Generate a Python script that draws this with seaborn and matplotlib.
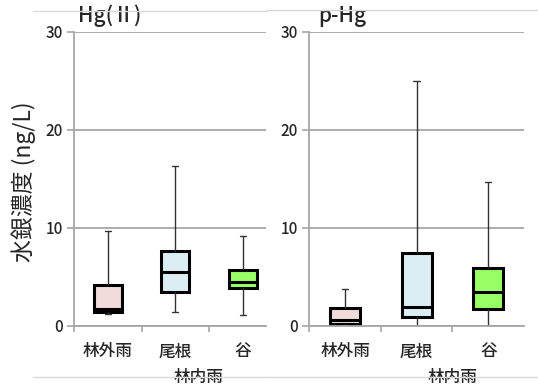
import numpy as np
import pandas as pd
import matplotlib.pyplot as plt
import seaborn as sns
from matplotlib.lines import Line2D

# Box plot summary values: min, Q1, median, Q3, max
categories = ['林外雨', '尾根', '谷']
hg2_min = [1.15, 1.4, 1.05]
hg2_q1 = [1.45, 3.4, 3.8]
hg2_med = [1.75, 5.5, 4.5]
hg2_q3 = [4.15, 7.6, 5.65]
hg2_max = [9.7, 16.3, 9.2]

phg_min = [0.12, 0.0, 0.0]
phg_q1 = [0.17, 0.86, 1.74]
phg_med = [0.58, 1.94, 3.4]
phg_q3 = [1.77, 7.45, 5.86]
phg_max = [3.75, 25.0, 14.7]

colors = ['#F2DCDB', '#DAEEF3', '#99FF66']
yticks = [0, 10, 20, 30]

sns.set_theme(style='white')
plt.rcParams['font.family'] = ['Noto Sans CJK JP', 'DejaVu Sans']
plt.rcParams['font.weight'] = 'medium'


def make_frame(mins, q1s, meds, q3s, maxs):
    # five points per group -> percentiles give exactly these box statistics
    rows = []
    for cat, a, b, c, d, e in zip(categories, mins, q1s, meds, q3s, maxs):
        for v in (a, b, c, d, e):
            rows.append({'group': cat, 'value': v})
    return pd.DataFrame(rows)


def draw_panel(ax, df, title, title_x, xmax, label_x):
    sns.boxplot(data=df, x='group', y='value', hue='group', palette=colors,
                order=categories, hue_order=categories, legend=False,
                whis=(0, 100), width=0.42, saturation=1, ax=ax,
                linecolor='black', linewidth=2.2, capwidths=0.09,
                whiskerprops={'linewidth': 1.0, 'color': '#333333'},
                capprops={'linewidth': 1.0, 'color': '#333333'})
    ax.set_ylim(0, 30)
    ax.set_xlim(-0.5, xmax)
    ax.set_yticks(yticks)
    ax.yaxis.grid(True, color='#A6A6A6', linewidth=1.3)
    ax.set_axisbelow(True)
    for s in ['top', 'right']:
        ax.spines[s].set_visible(False)
    for s in ['left', 'bottom']:
        ax.spines[s].set_color('#A6A6A6')
        ax.spines[s].set_linewidth(1.3)
    ax.tick_params(axis='y', length=5, width=1.2, color='#A6A6A6',
                   labelsize=11, pad=3, left=True)
    ax.tick_params(axis='x', which='major', length=0, labelsize=12, pad=12)
    ax.set_xticks([-0.5, 0.5, 1.5], minor=True)
    ax.tick_params(axis='x', which='minor', length=4, width=1.2,
                   color='#A6A6A6', bottom=True, direction='out')
    ax.set_xlabel('')
    ax.set_ylabel('')
    ax.text(title_x, 1.035, title, transform=ax.transAxes, fontsize=15,
            ha='left', va='baseline')
    ax.text(label_x, -0.175, '林内雨', transform=ax.get_xaxis_transform(),
            fontsize=12, ha='center', va='center')


fig = plt.figure(figsize=(5.38, 3.90), dpi=100)
ax1 = fig.add_axes([74 / 538, 64.3 / 390, 192 / 538, 293.7 / 390])
ax2 = fig.add_axes([309.3 / 538, 64.3 / 390, 214.7 / 538, 293.7 / 390])

draw_panel(ax1, make_frame(hg2_min, hg2_q1, hg2_med, hg2_q3, hg2_max),
           'Hg(Ⅱ)', 0.02, 2.344, 1.34)
draw_panel(ax2, make_frame(phg_min, phg_q1, phg_med, phg_q3, phg_max),
           'p-Hg', 0.04, 2.5, 1.5)

ax1.set_ylabel('水銀濃度 (ng/L)', fontsize=16.5)
ax1.yaxis.set_label_coords(-0.2, 0.49)

# faint chart-area borders
for x0, x1, y in [(33, 266, 11), (266, 538, 10), (33, 266, 377), (266, 538, 377)]:
    fig.add_artist(Line2D([x0 / 538, x1 / 538], [1 - y / 390, 1 - y / 390],
                          transform=fig.transFigure, color='#D9D9D9', lw=1))

plt.savefig('out.png', dpi=100)
